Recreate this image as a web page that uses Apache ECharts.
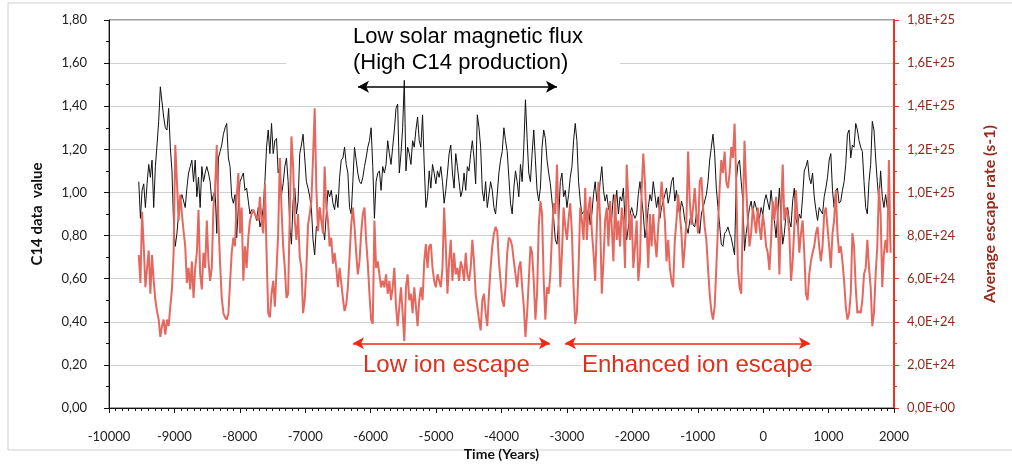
<!DOCTYPE html>
<html>
<head>
<meta charset="utf-8">
<script src="https://cdn.jsdelivr.net/npm/echarts@6/dist/echarts.min.js"></script>
<style>
html,body{margin:0;padding:0;background:#fff;}
#chart{width:1012px;height:471px;}
</style>
</head>
<body>
<div id="chart"></div>
<script>
// Sampling grid (years)
const START_YEAR = -9545;
const STEP_YEARS = 25.37;

// C14 data value (left axis)
const c14 = [
1.05,0.88,1.01,1.04,0.93,1.04,1.13,1.07,1.15,0.93,1.12,1.22,1.33,1.49,1.42,1.35,1.30,1.29,1.39,1.21,
1.10,0.85,0.75,0.81,0.90,0.96,0.99,0.96,0.93,1.02,1.09,1.12,1.15,1.05,1.15,0.98,1.07,0.93,1.12,1.05,
1.09,1.12,1.09,1.05,0.96,0.99,1.01,0.81,1.16,1.19,1.22,1.27,1.30,1.32,1.16,1.12,0.98,0.95,0.99,0.79,
0.93,1.05,1.07,1.09,1.01,1.02,0.96,0.90,0.92,0.92,0.90,0.87,
0.93,0.84,0.87,0.93,1.05,1.21,1.29,1.18,1.32,1.18,1.24,1.25,1.09,1.12,0.99,1.04,1.12,1.16,1.05,0.84,
0.76,0.96,1.02,0.90,0.96,1.18,1.22,1.27,1.16,1.05,1.02,0.98,0.93,0.78,0.71,0.84,0.85,0.93,0.87,0.84,
0.78,0.90,1.01,0.98,1.01,0.95,0.92,0.99,0.93,1.07,1.15,1.16,1.21,1.13,1.09,0.93,0.90,1.05,1.21,1.15,
1.09,1.05,1.04,1.07,1.12,1.16,1.21,1.24,1.30,1.12,0.88,1.05,1.09,1.10,1.01,1.12,1.09,
1.13,1.24,1.18,1.13,1.21,1.29,1.39,1.41,1.09,1.18,1.30,1.52,1.10,1.21,1.18,1.13,1.24,1.21,1.29,1.35,
1.24,1.21,1.36,1.13,0.93,0.98,1.10,1.02,1.13,1.09,1.04,1.10,1.07,1.12,1.05,0.95,1.01,1.09,1.18,1.22,
1.09,1.02,1.18,1.12,1.05,0.98,1.01,1.09,1.01,1.12,1.10,1.18,1.24,1.16,1.04,1.36,1.30,1.21,1.01,0.96,
1.05,0.93,0.93,1.05,1.01,0.93,0.90,0.99,1.09,1.15,1.19,1.30,1.24,1.19,1.07,0.95,0.90,
1.02,1.10,1.05,0.98,1.13,1.05,1.21,1.43,1.25,1.09,1.05,1.18,1.29,1.15,1.01,0.96,1.02,1.21,1.29,1.25,
1.15,1.09,1.04,0.96,0.88,0.78,0.76,0.87,1.05,1.09,0.98,1.01,0.93,0.99,1.07,1.12,1.24,1.32,1.24,1.05,
0.96,0.90,0.90,0.92,0.87,0.93,0.85,0.90,0.99,1.05,0.96,0.95,1.05,1.12,1.01,0.96,0.99,0.93,0.90,0.88,
0.99,0.93,1.01,0.90,0.98,0.96,1.02,0.87,0.78,0.84,0.90,0.93,0.90,0.88,0.90,0.99,1.05,
1.05,0.90,0.79,0.84,0.93,0.99,0.96,1.05,0.99,0.93,0.98,0.88,0.93,0.96,0.99,1.02,0.95,0.99,1.05,1.07,
0.96,1.01,0.93,0.90,0.96,0.93,0.87,0.84,0.81,0.87,0.90,0.85,0.84,0.90,0.87,0.81,0.90,0.93,0.96,0.99,
1.05,1.15,1.21,1.27,1.18,1.02,0.93,0.85,0.76,0.75,0.81,0.82,0.84,0.81,0.79,0.75,0.71,1.05,1.13,1.15,
1.05,0.96,0.73,0.81,0.87,0.93,0.96,0.90,0.96,0.93,0.90,0.88,0.93,0.90,0.96,0.99,0.99,
0.92,1.01,0.93,0.87,0.79,0.90,1.02,0.88,0.76,0.81,0.90,0.93,0.87,0.84,0.96,1.02,0.88,0.84,0.90,0.88,
0.98,1.10,1.12,1.15,1.07,1.04,1.09,0.98,0.92,0.87,0.93,0.93,0.90,0.98,1.02,1.07,1.15,1.18,1.01,0.93,
1.01,1.02,0.95,0.96,1.01,1.05,1.13,1.27,1.29,1.16,1.22,1.21,1.32,1.29,1.24,1.21,1.19,1.05,0.93,0.90,
1.05,1.13,1.33,1.29,1.16,1.05,0.96,1.10,0.98,0.93,0.99,0.93,0.95,0.75
];

// Average escape rate, in units of 1E+25 s-1 (right axis)
const ESCAPE_UNIT = 1e25;
const escapeRate = [
0.71,0.58,0.91,0.75,0.56,0.65,0.73,0.53,0.71,0.59,0.50,0.45,0.41,0.33,0.38,0.41,0.34,0.41,0.38,0.47,
0.55,0.72,1.22,1.05,0.87,0.99,0.90,0.82,0.75,0.58,0.65,0.55,0.68,0.51,0.65,0.72,0.92,0.62,0.55,0.72,
0.65,0.87,0.68,0.59,0.65,0.93,1.02,1.22,0.87,0.67,0.51,0.44,0.42,0.41,0.44,0.58,0.72,0.79,0.75,0.98,
1.09,0.81,0.93,0.59,0.75,0.65,0.79,0.87,0.90,0.92,0.90,0.90,
0.87,0.98,0.87,0.81,1.04,0.72,0.44,0.42,0.53,0.59,0.47,0.47,0.81,1.16,0.93,0.75,0.65,0.51,0.53,0.90,
1.26,1.12,0.87,0.78,0.90,0.70,0.65,0.44,0.50,0.65,0.85,0.90,0.96,1.16,1.39,1.02,0.82,0.93,0.87,0.81,
1.12,0.93,0.87,0.75,0.79,0.67,0.72,0.65,0.56,0.65,0.58,0.51,0.45,0.48,0.56,0.70,0.85,0.93,0.84,0.72,
0.62,0.68,0.81,0.90,0.93,0.78,0.67,0.53,0.41,0.39,0.87,0.65,0.68,0.62,0.56,0.59,0.56,
0.62,0.53,0.59,0.50,0.56,0.65,0.47,0.38,0.47,0.56,0.44,0.31,0.56,0.62,0.50,0.53,0.44,0.56,0.47,0.38,
0.50,0.56,0.50,0.68,0.76,0.65,0.75,0.76,0.65,0.59,0.56,0.62,0.59,0.56,0.65,0.93,0.75,0.53,0.68,0.78,
0.59,0.72,0.62,0.65,0.59,0.68,0.65,0.59,0.72,0.62,0.59,0.65,0.78,0.68,0.53,0.47,0.41,0.36,0.50,0.53,
0.44,0.38,0.53,0.65,0.75,0.81,0.84,0.82,0.68,0.59,0.50,0.47,0.56,0.72,0.79,0.78,0.75,
0.68,0.62,0.56,0.65,0.68,0.56,0.47,0.33,0.44,0.59,0.75,0.72,0.59,0.41,0.53,0.84,0.96,0.90,0.59,0.41,
0.56,0.53,0.62,0.81,0.95,0.90,1.13,0.85,0.56,0.72,0.93,0.84,0.78,0.88,0.95,0.81,0.56,0.39,0.44,0.65,
0.93,0.87,0.78,1.02,0.78,0.93,0.98,0.82,0.72,0.59,0.84,1.05,0.87,0.53,0.68,0.87,0.93,0.75,0.96,0.84,
0.68,0.99,0.78,0.87,0.75,0.93,0.87,0.65,1.13,0.96,0.78,0.90,0.65,0.75,0.87,0.59,0.68,
1.01,1.18,1.05,0.84,0.65,0.90,0.75,0.90,0.78,0.70,0.84,0.93,1.05,0.96,0.87,0.68,0.78,0.65,0.59,0.56,
0.78,0.87,0.99,0.90,0.81,0.65,0.75,0.87,1.19,0.96,0.85,0.93,1.02,0.90,0.81,1.05,1.07,0.93,0.84,0.78,
0.65,0.53,0.45,0.41,0.47,0.65,0.84,1.02,1.15,1.09,1.19,1.05,1.02,1.09,1.21,1.16,1.32,1.05,0.65,0.56,
0.53,0.90,1.24,1.02,0.87,0.75,0.81,0.93,0.87,0.81,0.93,0.84,0.78,0.90,0.84,0.75,0.72,
0.64,0.78,0.96,0.87,0.98,0.90,0.62,0.90,1.13,0.87,0.93,0.90,0.81,0.59,0.68,0.84,1.01,0.87,0.72,0.81,
0.87,0.72,0.53,0.50,0.62,0.68,0.72,0.75,0.81,0.84,0.75,0.68,0.75,0.90,0.93,0.84,0.75,0.65,0.81,0.87,
1.01,0.81,0.72,0.75,0.68,0.59,0.47,0.41,0.44,0.53,0.81,0.75,0.56,0.44,0.45,0.44,0.50,0.62,0.65,0.78,
0.65,0.56,0.38,0.44,0.62,0.75,1.02,0.90,0.56,0.72,0.78,0.72,1.15,0.72
];

// Axis settings
const X_TICKS = {min: -10000, max: 2000, interval: 1000};
const LEFT_TICKS = {min: 0, max: 1.8, interval: 0.2};
const RIGHT_TICKS = {min: 0, max: 1.8e25, interval: 2e24};

// Annotation ranges (years) and levels
const fluxArrow = {from: -6194, to: -3152, level: 1.49};
const lowEscapeArrow = {from: -6270, to: -3259, level: 0.30};
const highEscapeArrow = {from: -3030, to: 715, level: 0.30};

const years = c14.map((_, i) => START_YEAR + i * STEP_YEARS);
const c14Data = c14.map((v, i) => [years[i], v]);
const escData = escapeRate.map((v, i) => [years[i], v * ESCAPE_UNIT]);

function fmtSci(v) {
  if (v === 0) return '0,0E+00';
  let e = Math.floor(Math.log10(v) + 1e-9);
  let m = v / Math.pow(10, e);
  if (m >= 9.95) { m /= 10; e += 1; }
  return m.toFixed(1).replace('.', ',') + 'E+' + (e < 10 ? '0' + e : e);
}

const labelFont = 'Lato, "DejaVu Sans", sans-serif';
const annFont = '"Liberation Sans", Arial, sans-serif';

const chart = echarts.init(document.getElementById('chart'), null, {renderer: 'canvas'});
chart.setOption({
  animation: false,
  backgroundColor: '#fff',
  grid: {left: 109, right: 118, top: 20, bottom: 63, show: true, borderColor: '#444', borderWidth: 1},
  xAxis: {
    type: 'value', min: X_TICKS.min, max: X_TICKS.max, interval: X_TICKS.interval,
    name: 'Time (Years)', nameLocation: 'middle', nameGap: 39,
    nameTextStyle: {fontFamily: labelFont, fontWeight: 'bold', fontSize: 14, color: '#111'},
    axisLine: {onZero: false, lineStyle: {color: '#111', width: 1}},
    axisTick: {show: true, length: 5, lineStyle: {color: '#111'}},
    minorTick: {show: true, splitNumber: 10, length: 3, lineStyle: {color: '#111'}},
    splitLine: {show: false},
    axisLabel: {fontFamily: labelFont, fontSize: 13, color: '#222', margin: 22, formatter: v => String(v)}
  },
  yAxis: [{
    type: 'value', position: 'left', min: LEFT_TICKS.min, max: LEFT_TICKS.max, interval: LEFT_TICKS.interval,
    name: 'C14 data  value', nameLocation: 'middle', nameGap: 64, nameRotate: 90,
    nameTextStyle: {fontFamily: labelFont, fontWeight: 'bold', fontSize: 15, color: '#111'},
    axisLine: {show: true, onZero: false, lineStyle: {color: '#111', width: 1}},
    axisTick: {show: true, length: 5, lineStyle: {color: '#111'}},
    minorTick: {show: true, splitNumber: 2, length: 3, lineStyle: {color: '#111'}},
    splitLine: {show: true, lineStyle: {color: '#cfcfcf', width: 1}},
    axisLabel: {fontFamily: labelFont, fontSize: 13, color: '#222', margin: 22,
      formatter: v => v.toFixed(2).replace('.', ',')}
  }, {
    type: 'value', position: 'right', min: RIGHT_TICKS.min, max: RIGHT_TICKS.max, interval: RIGHT_TICKS.interval,
    name: 'Average escape rate (s-1)', nameLocation: 'middle', nameGap: 88, nameRotate: 90,
    nameTextStyle: {fontFamily: labelFont, fontWeight: 'bold', fontSize: 16, color: '#9a2a1c'},
    axisLine: {show: true, onZero: false, lineStyle: {color: '#f2321a', width: 2}},
    axisTick: {show: true, length: 5, lineStyle: {color: '#f2321a'}},
    minorTick: {show: true, splitNumber: 2, length: 3, lineStyle: {color: '#f2321a'}},
    splitLine: {show: false},
    axisLabel: {fontFamily: labelFont, fontSize: 13, color: '#8e2a1c', margin: 13, formatter: fmtSci}
  }],
  series: [{
    name: 'C14', type: 'line', yAxisIndex: 0, data: c14Data, showSymbol: false,
    lineStyle: {color: '#111', width: 1}, itemStyle: {color: '#111'}, z: 2,
    markLine: {
      silent: true, symbol: ['arrow', 'arrow'], symbolSize: [9, 11],
      lineStyle: {color: '#000', width: 1.5, type: 'solid'}, label: {show: false},
      data: [[{coord: [fluxArrow.from, fluxArrow.level]}, {coord: [fluxArrow.to, fluxArrow.level]}]]
    }
  }, {
    name: 'Escape rate', type: 'line', yAxisIndex: 1, data: escData, showSymbol: false,
    lineStyle: {color: '#e5685f', width: 2}, itemStyle: {color: '#e5685f'}, z: 3,
    markLine: {
      silent: true, symbol: ['arrow', 'arrow'], symbolSize: [9, 11],
      lineStyle: {color: '#ee2a14', width: 1.5, type: 'solid'}, label: {show: false},
      data: [
        [{coord: [lowEscapeArrow.from, lowEscapeArrow.level * ESCAPE_UNIT]}, {coord: [lowEscapeArrow.to, lowEscapeArrow.level * ESCAPE_UNIT]}],
        [{coord: [highEscapeArrow.from, highEscapeArrow.level * ESCAPE_UNIT]}, {coord: [highEscapeArrow.to, highEscapeArrow.level * ESCAPE_UNIT]}]
      ]
    }
  }],
  graphic: [
    {type: 'rect', shape: {x: 8, y: 3, width: 1010, height: 447}, style: {fill: 'none', stroke: '#cfcfcf', lineWidth: 1}, z: 0, silent: true},
    {type: 'rect', shape: {x: 286, y: 23, width: 334, height: 54}, style: {fill: '#fff'}, z: 5, silent: true},
    {type: 'text', x: 353, y: 24, z: 6, style: {text: 'Low solar magnetic flux\n(High C14 production)', font: '22px ' + annFont, fill: '#000', lineHeight: 26}},
    {type: 'text', x: 363, y: 365, z: 6, style: {text: 'Low ion escape', font: '24px ' + annFont, fill: '#e0301c', verticalAlign: 'middle', backgroundColor: '#fff'}},
    {type: 'text', x: 582, y: 365, z: 6, style: {text: 'Enhanced ion escape', font: '24px ' + annFont, fill: '#e0301c', verticalAlign: 'middle', backgroundColor: '#fff'}}
  ]
});
</script>
</body>
</html>
